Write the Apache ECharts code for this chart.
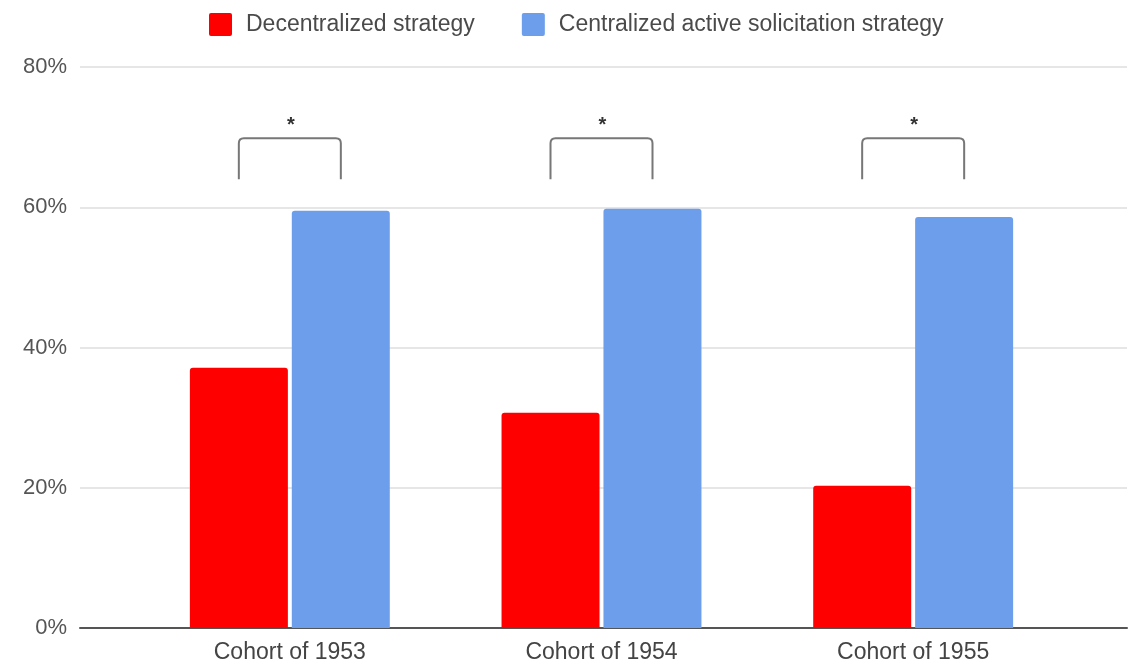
<!DOCTYPE html>
<html>
<head>
<meta charset="utf-8">
<script src="https://cdn.jsdelivr.net/npm/echarts@6/dist/echarts.min.js"></script>
<style>html,body{margin:0;padding:0;background:#fff;}#c{width:1130px;height:664px;}</style>
</head>
<body>
<div id="c"></div>
<script>
const categories = ['Cohort of 1953', 'Cohort of 1954', 'Cohort of 1955'];
const seriesNames = ['Decentralized strategy', 'Centralized active solicitation strategy'];
const decentralized = [37.1, 30.7, 20.3];
const centralized = [59.5, 59.8, 58.6];
const yTicks = [0, 20, 40, 60, 80];
const sigLabels = ['*', '*', '*'];
const bracketTop = [70, 70, 70];
const bracketBottom = [64, 64, 64];

const FONT = 'Liberation Sans, Arial, sans-serif';
const chart = echarts.init(document.getElementById('c'), null, {renderer: 'canvas'});

const option = {
  backgroundColor: '#ffffff',
  animation: false,
  legend: {
    top: 8,
    left: 204,
    itemWidth: 23,
    itemHeight: 23,
    itemGap: 47,
    icon: 'path://M2,0 H21 Q23,0 23,2 V21 Q23,23 21,23 H2 Q0,23 0,21 V2 Q0,0 2,0 Z',
    textStyle: {fontFamily: FONT, fontSize: 23, color: '#4a4a4a', padding: [0, 0, 0, 9]},
    data: seriesNames
  },
  grid: [
    {left: 80, right: 3, top: 67, bottom: 36},
    {left: 134, right: 61, top: 67, bottom: 36}
  ],
  xAxis: [
    {gridIndex: 0, type: 'category', data: categories, axisLabel: {show: false}, axisTick: {show: false},
     axisLine: {show: true, lineStyle: {color: '#555', width: 2}}},
    {gridIndex: 1, type: 'category', data: categories, axisTick: {show: false}, axisLine: {show: false},
     axisLabel: {fontFamily: FONT, fontSize: 23, color: '#444', margin: 13}}
  ],
  yAxis: [
    {gridIndex: 0, type: 'value', min: yTicks[0], max: yTicks[yTicks.length - 1], interval: 20,
     axisLabel: {formatter: '{value}%', fontFamily: FONT, fontSize: 22, color: '#555', margin: 13},
     axisLine: {show: false}, axisTick: {show: false},
     splitLine: {lineStyle: {color: '#dedede', width: 1.5}}},
    {gridIndex: 1, type: 'value', min: yTicks[0], max: yTicks[yTicks.length - 1], interval: 20, show: false}
  ],
  series: [
    {name: seriesNames[0], type: 'bar', xAxisIndex: 1, yAxisIndex: 1, data: decentralized,
     barWidth: 98, barGap: '4%', itemStyle: {color: '#ff0000', borderRadius: [3, 3, 0, 0]}},
    {name: seriesNames[1], type: 'bar', xAxisIndex: 1, yAxisIndex: 1, data: centralized,
     barWidth: 98, barGap: '4%', itemStyle: {color: '#6d9eeb', borderRadius: [3, 3, 0, 0]}},
    {type: 'custom', xAxisIndex: 1, yAxisIndex: 1, silent: true, z: 5,
     data: categories.map((c, i) => [i, bracketTop[i], bracketBottom[i]]),
     renderItem: function (params, api) {
       const idx = api.value(0);
       const top = api.coord([idx, api.value(1)]);
       const bot = api.coord([idx, api.value(2)]);
       const off = 51;
       const x1 = top[0] - off, x2 = top[0] + off, yt = top[1] + 1, yb = bot[1], r = 5;
       return {
         type: 'group',
         children: [
           {type: 'path', shape: {pathData:
             'M' + x1 + ' ' + yb + ' L' + x1 + ' ' + (yt + r) + ' Q' + x1 + ' ' + yt + ' ' + (x1 + r) + ' ' + yt +
             ' L' + (x2 - r) + ' ' + yt + ' Q' + x2 + ' ' + yt + ' ' + x2 + ' ' + (yt + r) + ' L' + x2 + ' ' + yb},
            style: {fill: null, stroke: '#777', lineWidth: 2}},
           {type: 'text', style: {text: sigLabels[params.dataIndex], x: top[0] + 1, y: yt - 13,
             textAlign: 'center', textVerticalAlign: 'middle', fontSize: 20, fontWeight: 'bold', fill: '#333', fontFamily: FONT}}
         ]
       };
     }}
  ]
};
chart.setOption(option);
</script>
</body>
</html>
